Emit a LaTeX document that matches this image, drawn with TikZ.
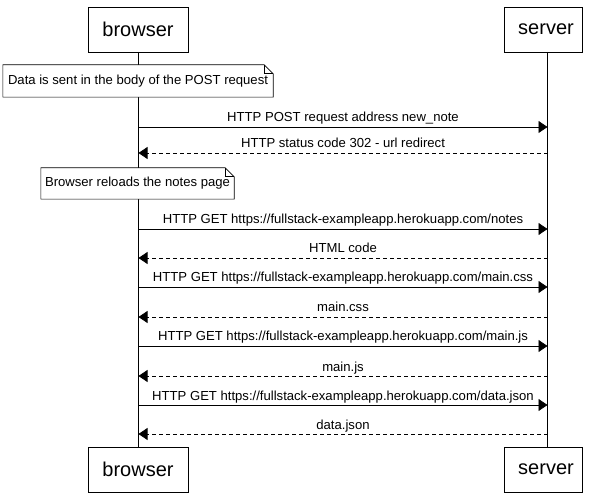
\documentclass[tikz,border=0pt]{standalone}
\usepackage{fontspec}
\setmainfont{Liberation Sans}
\usetikzlibrary{arrows.meta,calc}
\begin{document}
\begin{tikzpicture}[x=1pt,y=-1pt,
  actor/.style={draw, line width=0.8pt, minimum height=45pt, inner sep=0pt, font=\fontsize{20}{24}\selectfont},
  life/.style={line width=0.8pt},
  notebox/.style={inner sep=0pt, font=\fontsize{13.1}{15}\selectfont},
  notefold/.style={draw, fill=white, line width=0.6pt},
  msg/.style={line width=0.8pt, -{Triangle[length=9pt,width=12pt]}},
  reply/.style={msg, dash pattern=on 4pt off 3pt},
  lbl/.style={anchor=base, yshift=5pt, inner sep=0pt, font=\fontsize{13.1}{15}\selectfont}]
\useasboundingbox[fill=white] (0,0) rectangle (600,494);
% actors
\node[actor, minimum width=100pt] (bt) at (138,29.5) {browser};
\node[actor, minimum width=78pt] (stp) at (543,29.5) {\hspace*{6pt}server};
\node[actor, minimum width=100pt] (bb) at (138,469.5) {browser};
\node[actor, minimum width=78pt] (sbt) at (543,469.5) {\hspace*{6pt}server};
% lifelines
\coordinate (bl1) at (138.5,52);
\coordinate (bl2) at (138.5,447);
\coordinate (sl1) at (547.5,52);
\coordinate (sl2) at (547.5,447);
\draw[life] (bl1) -- (bl2);
\draw[life] (sl1) -- (sl2);
% notes
\node[notebox, minimum width=270pt, minimum height=32pt] (n1) at (138,81) {Data is sent in the body of the POST request};
\draw[notefold] (n1.south west) -- (n1.south east) -- ($(n1.north east)+(0,9)$) -- ($(n1.north east)+(-9,0)$) -- (n1.north west) -- cycle;
\draw[line width=0.6pt] ($(n1.north east)+(-9,0)$) -- ($(n1.north east)+(-9,9)$) -- ($(n1.north east)+(0,9)$);
\node[notebox] at (n1) {Data is sent in the body of the POST request};
\node[notebox, minimum width=193pt, minimum height=31pt] (n2) at (137.5,183.5) {Browser reloads the notes page};
\draw[notefold] (n2.south west) -- (n2.south east) -- ($(n2.north east)+(0,9)$) -- ($(n2.north east)+(-9,0)$) -- (n2.north west) -- cycle;
\draw[line width=0.6pt] ($(n2.north east)+(-9,0)$) -- ($(n2.north east)+(-9,9)$) -- ($(n2.north east)+(0,9)$);
\node[notebox] at (n2) {Browser reloads the notes page};
% message end points
\foreach \i/\y in {1/127,2/153,3/229,4/258,5/287,6/317,7/346,8/376,9/405,10/434}{
  \coordinate (b\i) at (138.5,\y);
  \coordinate (s\i) at (547.5,\y);
}
\draw[msg] (b1) -- node[lbl] {HTTP POST request address new\_note} (s1);
\draw[reply] (s2) -- node[lbl] {HTTP status code 302 - url redirect} (b2);
\draw[msg] (b3) -- node[lbl] {HTTP GET https://fullstack-exampleapp.herokuapp.com/notes} (s3);
\draw[reply] (s4) -- node[lbl] {HTML code} (b4);
\draw[msg] (b5) -- node[lbl] {HTTP GET https://fullstack-exampleapp.herokuapp.com/main.css} (s5);
\draw[reply] (s6) -- node[lbl] {main.css} (b6);
\draw[msg] (b7) -- node[lbl] {HTTP GET https://fullstack-exampleapp.herokuapp.com/main.js} (s7);
\draw[reply] (s8) -- node[lbl] {main.js} (b8);
\draw[msg] (b9) -- node[lbl] {HTTP GET https://fullstack-exampleapp.herokuapp.com/data.json} (s9);
\draw[reply] (s10) -- node[lbl] {data.json} (b10);
\end{tikzpicture}
\end{document}
